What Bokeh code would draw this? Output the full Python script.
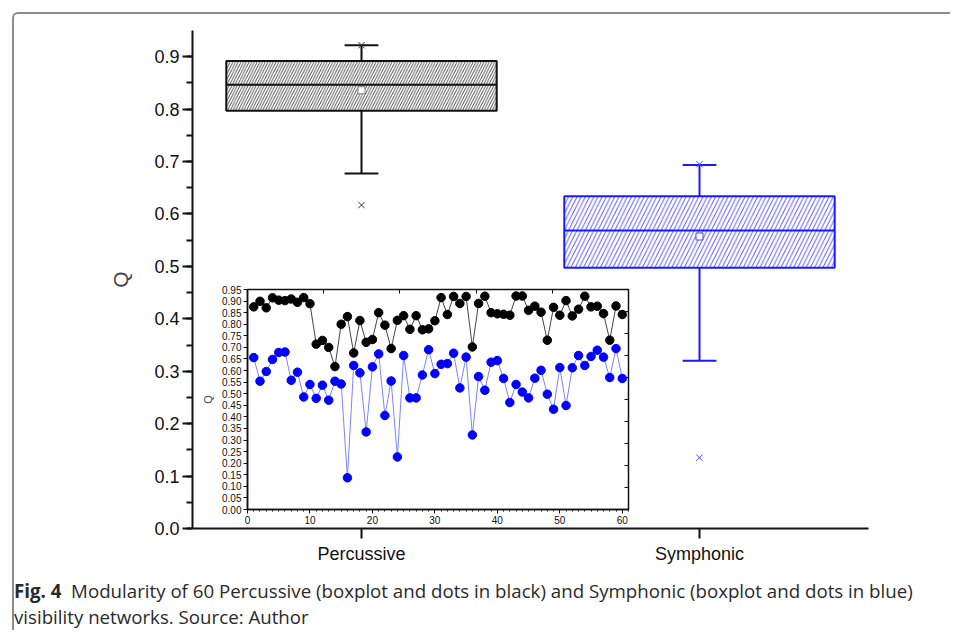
from bokeh.plotting import figure
from bokeh.models import (Range1d, FixedTicker, LinearAxis, ColumnDataSource, Div, GridBox,
                          SingleIntervalTicker, NumeralTickFormatter, CustomJSTickFormatter)
from bokeh.layouts import column
from bokeh.embed import file_html
from bokeh.resources import INLINE

# ---------------- data ----------------
categories = ["Percussive", "Symphonic"]
cat_pos = [1, 2]
box_q1 = [0.797, 0.4975]
box_median = [0.8466, 0.5687]
box_q3 = [0.892, 0.6336]
box_mean = [0.836, 0.557]
whisker_low = [0.677, 0.320]
whisker_high = [0.922, 0.6935]
marker_low = [0.617, 0.135]
marker_high = [0.922, 0.695]

run_index = list(range(1, 61))
percussive_q = [0.875, 0.899, 0.871, 0.914, 0.904, 0.902, 0.909, 0.895, 0.915, 0.889,
                0.714, 0.730, 0.700, 0.617, 0.800, 0.833, 0.676, 0.816, 0.722, 0.734,
                0.850, 0.796, 0.695, 0.817, 0.837, 0.778, 0.837, 0.776, 0.780, 0.815,
                0.915, 0.842, 0.920, 0.890, 0.920, 0.702, 0.890, 0.921, 0.850, 0.845,
                0.843, 0.839, 0.922, 0.922, 0.860, 0.878, 0.852, 0.731, 0.873, 0.839,
                0.902, 0.836, 0.865, 0.921, 0.875, 0.878, 0.846, 0.731, 0.879, 0.842]
symphonic_q = [0.656, 0.554, 0.596, 0.648, 0.678, 0.680, 0.558, 0.593, 0.486, 0.540,
               0.480, 0.537, 0.472, 0.554, 0.542, 0.137, 0.622, 0.590, 0.335, 0.616,
               0.672, 0.406, 0.555, 0.227, 0.665, 0.482, 0.482, 0.581, 0.690, 0.587,
               0.627, 0.630, 0.675, 0.525, 0.658, 0.322, 0.574, 0.515, 0.636, 0.643,
               0.566, 0.462, 0.540, 0.507, 0.482, 0.567, 0.601, 0.498, 0.433, 0.613,
               0.449, 0.612, 0.665, 0.622, 0.661, 0.688, 0.658, 0.570, 0.695, 0.566]

# ---------------- styles ----------------
box_colors = ["#111111", "#1a1aff"]
hatch_colors = ["#3a3a3a", "#3a3aff"]
mean_colors = ["#808080", "#4a4aff"]
extreme_colors = ["#333333", "#4a4aff"]
hatch_scales = [5.4, 8.4]
box_width = 0.8
cap_half = 0.05
FONT = "Liberation Sans"

# ---------------- main figure ----------------
p = figure(width=894, height=564, x_range=Range1d(0.5, 2.5), y_range=Range1d(0, 0.95),
           output_backend="svg", toolbar_location=None,
           min_border_left=178, min_border_top=16, min_border_right=40, min_border_bottom=50)
p.outline_line_color = None
p.grid.visible = False
p.background_fill_color = None
p.border_fill_color = None

p.xaxis.ticker = FixedTicker(ticks=cat_pos)
p.xaxis.major_label_overrides = {pos: name for pos, name in zip(cat_pos, categories)}
p.yaxis.ticker = SingleIntervalTicker(interval=0.1, num_minor_ticks=2)
p.yaxis.formatter = NumeralTickFormatter(format="0.0")
p.yaxis.axis_label = "Q"
for ax in (p.xaxis[0], p.yaxis[0]):
    ax.axis_line_width = 2
    ax.axis_line_color = "#111111"
    ax.major_tick_line_width = 2
    ax.major_tick_line_color = "#111111"
    ax.minor_tick_line_width = 2
    ax.minor_tick_line_color = "#111111"
    ax.major_tick_in = 0
    ax.major_tick_out = 10
    ax.minor_tick_in = 0
    ax.minor_tick_out = 6
    ax.major_label_text_font = FONT
    ax.major_label_text_font_size = "18px"
    ax.major_label_text_color = "#111111"
    ax.axis_label_text_font = FONT
    ax.axis_label_text_font_style = "normal"
    ax.axis_label_text_font_size = "21px"
p.xaxis.minor_tick_line_color = None
p.xaxis.major_label_standoff = 5
p.yaxis.major_label_standoff = 3
p.yaxis.axis_label_standoff = 19

for i in range(len(categories)):
    c = cat_pos[i]
    col = box_colors[i]
    src = ColumnDataSource(dict(x=[c], q1=[box_q1[i]], q3=[box_q3[i]]))
    p.vbar(x="x", width=box_width, bottom="q1", top="q3", source=src,
           fill_color=None, line_color=col, line_width=2,
           hatch_pattern="/", hatch_color=hatch_colors[i], hatch_scale=hatch_scales[i],
           hatch_weight=0.9)
    p.segment(x0=[c - box_width / 2], x1=[c + box_width / 2], y0=[box_median[i]], y1=[box_median[i]],
              line_color=col, line_width=2)
    p.segment(x0=[c, c], x1=[c, c], y0=[box_q3[i], box_q1[i]], y1=[whisker_high[i], whisker_low[i]],
              line_color=col, line_width=2)
    p.segment(x0=[c - cap_half, c - cap_half], x1=[c + cap_half, c + cap_half],
              y0=[whisker_high[i], whisker_low[i]], y1=[whisker_high[i], whisker_low[i]],
              line_color=col, line_width=2)
    p.scatter(x=[c], y=[box_mean[i]], marker="square", size=7, fill_color="white",
              line_color=mean_colors[i], line_width=1)
    p.scatter(x=[c, c], y=[marker_low[i], marker_high[i]], marker="x", size=9,
              line_color=extreme_colors[i], line_width=1)

# ---------------- inset ----------------
ins = figure(width=442, height=252, x_range=Range1d(0, 61), y_range=Range1d(0, 0.95 + 1e-9),
             output_backend="svg", toolbar_location=None,
             min_border_left=51, min_border_top=8, min_border_right=10, min_border_bottom=24)
ins.grid.visible = False
ins.border_fill_alpha = 0
ins.background_fill_color = "white"
ins.outline_line_color = "#111111"
ins.outline_line_width = 1.5

ins.xaxis.ticker = SingleIntervalTicker(interval=10, num_minor_ticks=10)
ins.yaxis.ticker = SingleIntervalTicker(interval=0.05, num_minor_ticks=0)
ins.yaxis.formatter = NumeralTickFormatter(format="0.00")
ins.yaxis.axis_label = "Q"
for ax in (ins.xaxis[0], ins.yaxis[0]):
    ax.axis_line_width = 1.5
    ax.axis_line_color = "#111111"
    ax.major_tick_line_color = "#111111"
    ax.minor_tick_line_color = "#111111"
    ax.major_tick_line_width = 1
    ax.minor_tick_line_width = 1
    ax.major_tick_in = 0
    ax.major_tick_out = 4
    ax.minor_tick_in = 0
    ax.minor_tick_out = 2
    ax.major_label_text_font = FONT
    ax.major_label_text_font_size = "10px"
    ax.major_label_text_color = "#111111"
    ax.major_label_standoff = 2
    ax.axis_label_text_font = FONT
    ax.axis_label_text_font_style = "normal"
    ax.axis_label_text_font_size = "11px"
ins.yaxis.axis_label_standoff = 5

blank = CustomJSTickFormatter(code="return '';")
top_ax = LinearAxis(ticker=SingleIntervalTicker(interval=12.2, num_minor_ticks=0),
                    formatter=blank, axis_line_color=None,
                    major_tick_in=4, major_tick_out=0, major_tick_line_color="#111111",
                    minor_tick_line_color=None, major_label_standoff=0)
right_ax = LinearAxis(ticker=SingleIntervalTicker(interval=0.095, num_minor_ticks=0),
                      formatter=blank, axis_line_color=None,
                      major_tick_in=4, major_tick_out=0, major_tick_line_color="#111111",
                      minor_tick_line_color=None, major_label_standoff=0)
ins.add_layout(top_ax, "above")
ins.add_layout(right_ax, "right")

ins.line(run_index, percussive_q, line_color="#444444", line_width=1)
ins.scatter(run_index, percussive_q, size=8.5, fill_color="#000000", line_color="#000000")
ins.line(run_index, symphonic_q, line_color="#7c84ff", line_width=1)
ins.scatter(run_index, symphonic_q, size=8.5, fill_color="#0000ff", line_color="#0000ff")

# main chart with inset overlaid through overlapping grid cells
grid = GridBox(children=[(p, 0, 0, 3, 3), (ins, 1, 1)],
               rows=["267px", "252px", "45px"], cols=["182px", "442px", "270px"],
               spacing=0)

# ---------------- caption ----------------
caption = Div(
    text='<span style="font-weight:700">Fig. 4</span>&nbsp; Modularity of 60 Percussive '
         '(boxplot and dots in black) and Symphonic (boxplot and dots in blue)<br>'
         'visibility networks. Source: Author',
    width=936, height=52, margin=(0, 0, 0, 0),
    styles={"font-family": "Open Sans", "font-size": "18.7px", "line-height": "26px",
            "color": "#2a2a2a", "white-space": "nowrap", "overflow": "visible"})

layout = column(grid, caption, margin=(12, 0, 0, 12),
                styles={"border-top": "2px solid #8c8c8c", "border-left": "2px solid #8c8c8c",
                        "border-top-left-radius": "6px"})

open("out.html", "w").write(file_html(layout, INLINE))
